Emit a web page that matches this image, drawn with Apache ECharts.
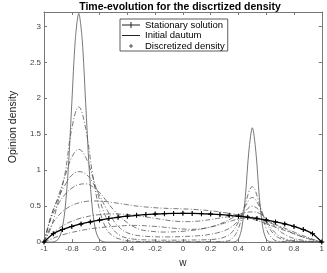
<!DOCTYPE html>
<html><head><meta charset="utf-8">
<script src="https://cdn.jsdelivr.net/npm/echarts@6/dist/echarts.min.js"></script>
<style>html,body{margin:0;padding:0;background:#fff}#c{width:327px;height:273px}</style>
</head><body><div id="c"></div>
<script>
const titleText = 'Time-evolution for the discrtized density';
const xName = 'w';
const yName = 'Opinion density';
const xTicks = [-1, -0.8, -0.6, -0.4, -0.2, 0, 0.2, 0.4, 0.6, 0.8, 1];
const yTicks = [0, 0.5, 1, 1.5, 2, 2.5, 3];

const wGrid = [-1,-0.95,-0.9,-0.85,-0.8,-0.75,-0.7,-0.65,-0.6,-0.55,-0.5,-0.45,-0.4,-0.35,-0.3,-0.25,-0.2,-0.15,-0.1,-0.05,0,0.05,0.1,0.15,0.2,0.25,0.3,0.35,0.4,0.45,0.5,0.55,0.6,0.65,0.7,0.75,0.8,0.85,0.9,0.95,1];

const curveA = [0,0.20,0.55,0.94,1.58,1.88,1.58,0.94,0.45,0.18, 0.08,0.04,0.02,0.012,0.008,0.006,0.005,0.005,0.005,0.005, 0.005,0.005,0.005,0.005,0.005,0.006,0.01,0.04,0.19,0.54, 0.77,0.54,0.19,0.04,0.01,0.006,0.005,0.004,0.003,0.002, 0];
const curveB = [0,0.35,0.62,0.91,1.18,1.29,1.18,0.91,0.59,0.33, 0.17,0.09,0.055,0.04,0.033,0.03,0.028,0.027,0.027,0.027, 0.028,0.029,0.03,0.032,0.036,0.045,0.07,0.13,0.28,0.50, 0.62,0.50,0.28,0.12,0.05,0.022,0.012,0.008,0.005,0.003, 0];
const curveC = [0,0.36,0.60,0.79,0.93,0.98,0.95,0.83,0.65,0.46, 0.30,0.19,0.13,0.10,0.085,0.078,0.074,0.072,0.072,0.074, 0.077,0.081,0.087,0.095,0.11,0.13,0.16,0.21,0.30,0.43, 0.50,0.44,0.30,0.16,0.075,0.037,0.02,0.012,0.007,0.003, 0];
const curveD = [0,0.33,0.52,0.66,0.75,0.80,0.81,0.77,0.69,0.57, 0.45,0.35,0.27,0.21,0.17,0.155,0.145,0.14,0.14,0.145, 0.15,0.16,0.17,0.19,0.21,0.24,0.28,0.33,0.38,0.41, 0.42,0.40,0.33,0.24,0.15,0.09,0.05,0.03,0.015,0.007, 0];
const curveE = [0,0.22,0.36,0.45,0.51,0.545,0.565,0.572,0.57,0.562, 0.55,0.535,0.52,0.505,0.495,0.485,0.478,0.472,0.468,0.465, 0.462,0.458,0.452,0.445,0.435,0.425,0.41,0.395,0.375,0.35, 0.32,0.29,0.255,0.22,0.185,0.15,0.115,0.08,0.05,0.025, 0];
const curveF = [0,0.10,0.18,0.245,0.29,0.325,0.35,0.37,0.382,0.39, 0.392,0.39,0.385,0.375,0.36,0.345,0.33,0.315,0.30,0.29, 0.285,0.285,0.29,0.30,0.315,0.33,0.345,0.36,0.365,0.36, 0.35,0.33,0.30,0.26,0.22,0.18,0.14,0.10,0.065,0.03, 0];
const curveG = [0,0.04,0.08,0.11,0.135,0.155,0.175,0.19,0.20,0.21, 0.218,0.225,0.23,0.232,0.23,0.225,0.218,0.21,0.20,0.19, 0.182,0.178,0.18,0.19,0.21,0.235,0.265,0.295,0.32,0.335, 0.335,0.32,0.29,0.25,0.205,0.16,0.12,0.08,0.05,0.02, 0];

const initW = [-1,-0.95,-0.925,-0.9,-0.875,-0.85,-0.825,-0.8,-0.775,-0.75,-0.725,-0.7,-0.675,-0.65,-0.625,-0.6,-0.575,-0.55,0.35,0.375,0.4,0.425,0.45,0.475,0.5,0.525,0.55,0.575,0.6,0.625,0.65,1];
const initY = [0,0,0.007,0.035,0.14,0.43,1.03,1.93,2.81,3.18,2.81,1.93,1.03,0.43,0.14,0.035,0.007,0,0,0.005,0.041,0.204,0.638,1.266,1.59,1.266,0.638,0.204,0.041,0.005,0,0];

const statW = [-1,-0.9333,-0.8667,-0.8,-0.7333,-0.6667,-0.6,-0.5333,-0.4667,-0.4,-0.3333,-0.2667,-0.2,-0.1333,-0.0667,0,0.0667,0.1333,0.2,0.2667,0.3333,0.4,0.4667,0.5333,0.6,0.6667,0.7333,0.8,0.8667,0.9333,1];
const statY = [0,0.117,0.174,0.217,0.252,0.281,0.306,0.327,0.345,0.360,0.373,0.383,0.390,0.396,0.399,0.400,0.399,0.396,0.390,0.383,0.373,0.360,0.345,0.327,0.306,0.281,0.252,0.217,0.174,0.117,0];

const legendNames = ['Stationary solution', 'Initial dautum', 'Discretized density'];

const zip = (xs, ys) => xs.map((x, i) => [x, ys[i]]);
const plus = 'path://M0,4H10V6H0Z M4,0H6V10H4Z';
const axisCol = '#777';
const dashDot = [5, 2, 1, 2];
// legend icons (18x8 box; tiny corner squares fix the bounding box)
const corners = 'M0,0H0.01V0.01H0Z M17.99,7.99H18V8H17.99Z ';
const iconStat = 'path://' + corners + 'M0,3.4H18V4.6H0Z M8.5,1H9.5V7H8.5Z M6,3.5H12V4.5H6Z';
const iconInit = 'path://' + corners + 'M0,3.6H18V4.4H0Z';
const iconDisc = 'path://' + corners + 'M7,3.5H11V4.5H7Z M8.5,2H9.5V6H8.5Z';

function dd(name, ys) {
  return { name: name, type: 'line', data: zip(wGrid, ys), smooth: 0.4, symbol: 'none',
    lineStyle: { color: '#555', width: 0.8, type: dashDot }, silent: true, z: 2 };
}

const chart = echarts.init(document.getElementById('c'), null, { renderer: 'canvas' });
const fmtX = v => String(Math.round(v * 10) / 10);
const fmtY = v => (Math.abs(v * 2 - Math.round(v * 2)) < 1e-6 ? String(Math.round(v * 10) / 10) : '');
const baseX = { type: 'value', min: -1, max: 1, interval: 0.2, splitLine: { show: false },
  axisLine: { show: true, onZero: false, lineStyle: { color: axisCol, width: 1 } },
  axisTick: { show: true, inside: true, length: 3, lineStyle: { color: axisCol } } };
const baseY = { type: 'value', min: 0, max: 3.2, interval: 0.5, splitLine: { show: false },
  axisLine: { show: true, onZero: false, lineStyle: { color: axisCol, width: 1 } },
  axisTick: { show: true, inside: true, length: 3, lineStyle: { color: axisCol } } };

chart.setOption({
  animation: false,
  backgroundColor: '#fff',
  title: { text: titleText, left: 175, top: -3, textAlign: 'center',
    textStyle: { fontSize: 10.5, fontWeight: 'bold', color: '#000', fontFamily: 'Liberation Sans' } },
  grid: { left: 25, right: 3, top: 12, bottom: 24, containLabel: false },
  legend: { data: [
      { name: legendNames[0], icon: iconStat },
      { name: legendNames[1], icon: iconInit },
      { name: legendNames[2], icon: iconDisc } ],
    orient: 'vertical', left: 120, top: 19, itemWidth: 18, itemHeight: 8, itemGap: 0.5,
    padding: [1, 3, 0, 2], borderColor: '#333', borderWidth: 0.8, backgroundColor: '#fff',
    itemStyle: { color: '#222' },
    textStyle: { fontSize: 9.5, color: '#000', fontFamily: 'Liberation Sans', lineHeight: 8 } },
  xAxis: [
    Object.assign({}, baseX, { position: 'bottom', name: xName, nameLocation: 'middle', nameGap: 12,
      nameTextStyle: { fontSize: 10, color: '#222', fontFamily: 'Liberation Sans' },
      axisLabel: { show: true, formatter: fmtX, fontSize: 8, color: '#444', margin: 3, fontFamily: 'Liberation Sans' } }),
    Object.assign({}, baseX, { position: 'top', axisLabel: { show: false } })
  ],
  yAxis: [
    Object.assign({}, baseY, { position: 'left', name: yName, nameLocation: 'middle', nameGap: 17, nameRotate: 90,
      nameTextStyle: { fontSize: 10.5, color: '#222', fontFamily: 'Liberation Sans' },
      axisLabel: { show: true, formatter: fmtY, fontSize: 8, color: '#444', margin: 3, fontFamily: 'Liberation Sans' } }),
    Object.assign({}, baseY, { position: 'right', axisLabel: { show: false } })
  ],
  series: [
    dd('t1', curveA), dd('t2', curveB), dd('t3', curveC), dd('t4', curveD),
    dd('t5', curveE), dd('t6', curveF), dd('t7', curveG),
    { name: legendNames[1], type: 'line', data: zip(initW, initY), smooth: 0.3, symbol: 'none',
      lineStyle: { color: '#555', width: 0.8 }, itemStyle: { color: '#555' }, z: 3 },
    { name: legendNames[0], type: 'line', data: zip(statW, statY), smooth: 0.3, symbol: plus, symbolSize: 5,
      showAllSymbol: true, lineStyle: { color: '#000', width: 1.3 }, itemStyle: { color: '#000' }, z: 4 },
    { name: legendNames[2], type: 'scatter', data: zip(statW, statY), symbol: plus, symbolSize: 4,
      itemStyle: { color: '#000' }, z: 5 }
  ]
});
</script></body></html>
